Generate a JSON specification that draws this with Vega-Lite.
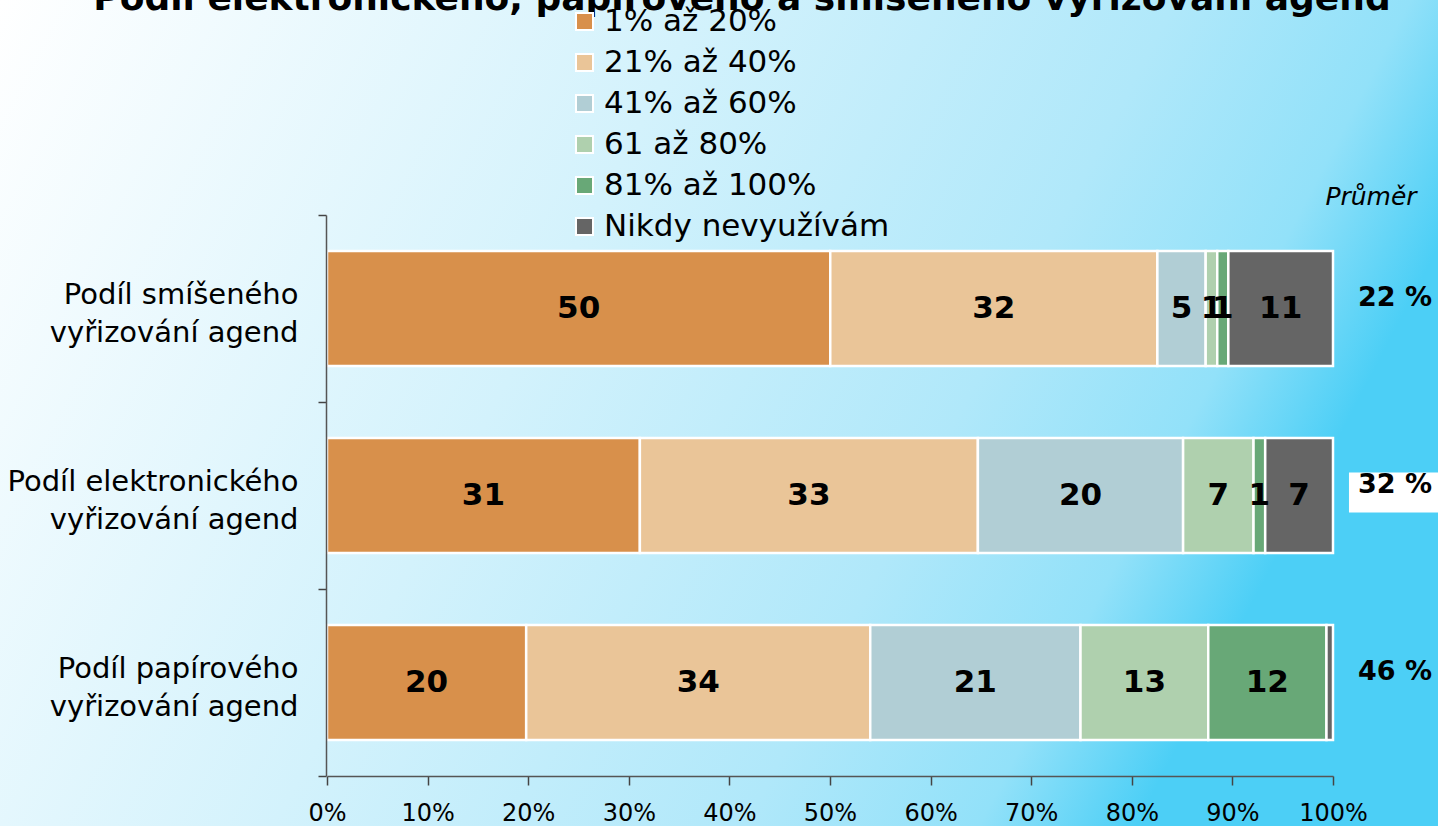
{
  "$schema": "https://vega.github.io/schema/vega-lite/v6.json",
  "width": 1438,
  "height": 826,
  "autosize": {"type": "none"},
  "padding": 0,
  "background": "#ffffff",
  "view": {
    "stroke": null,
    "fill": {
      "gradient": "linear",
      "x1": 0, "y1": 0, "x2": 1, "y2": 0.3,
      "stops": [
        {"offset": 0, "color": "#ffffff"},
        {"offset": 0.45, "color": "#d3f2fc"},
        {"offset": 0.75, "color": "#b0e8fa"},
        {"offset": 0.9, "color": "#92e1f9"},
        {"offset": 1, "color": "#4ccff6"}
      ]
    }
  },
  "title": {
    "text": "Podíl elektronického, papírového a smíšeného vyřizování agend",
    "font": "DejaVu Sans",
    "fontSize": 36,
    "fontWeight": "bold",
    "color": "#000000",
    "anchor": "middle",
    "frame": "group",
    "baseline": "alphabetic",
    "offset": -60,
    "dx": 23
  },
  "datasets": {
    "bars": [
      {"row": "Podíl smíšeného vyřizování agend", "cat": "1% až 20%", "value": 50.0, "label": "50"},
      {"row": "Podíl smíšeného vyřizování agend", "cat": "21% až 40%", "value": 32.5, "label": "32"},
      {"row": "Podíl smíšeného vyřizování agend", "cat": "41% až 60%", "value": 4.8, "label": "5"},
      {"row": "Podíl smíšeného vyřizování agend", "cat": "61 až 80%", "value": 1.15, "label": "1"},
      {"row": "Podíl smíšeného vyřizování agend", "cat": "81% až 100%", "value": 1.1, "label": "1"},
      {"row": "Podíl smíšeného vyřizování agend", "cat": "Nikdy nevyužívám", "value": 10.4, "label": "11"},
      {"row": "Podíl elektronického vyřizování agend", "cat": "1% až 20%", "value": 31.1, "label": "31"},
      {"row": "Podíl elektronického vyřizování agend", "cat": "21% až 40%", "value": 33.6, "label": "33"},
      {"row": "Podíl elektronického vyřizování agend", "cat": "41% až 60%", "value": 20.4, "label": "20"},
      {"row": "Podíl elektronického vyřizování agend", "cat": "61 až 80%", "value": 7.0, "label": "7"},
      {"row": "Podíl elektronického vyřizování agend", "cat": "81% až 100%", "value": 1.16, "label": "1"},
      {"row": "Podíl elektronického vyřizování agend", "cat": "Nikdy nevyužívám", "value": 6.74, "label": "7"},
      {"row": "Podíl papírového vyřizování agend", "cat": "1% až 20%", "value": 19.8, "label": "20"},
      {"row": "Podíl papírového vyřizování agend", "cat": "21% až 40%", "value": 34.2, "label": "34"},
      {"row": "Podíl papírového vyřizování agend", "cat": "41% až 60%", "value": 20.9, "label": "21"},
      {"row": "Podíl papírového vyřizování agend", "cat": "61 až 80%", "value": 12.7, "label": "13"},
      {"row": "Podíl papírového vyřizování agend", "cat": "81% až 100%", "value": 11.75, "label": "12"},
      {"row": "Podíl papírového vyřizování agend", "cat": "Nikdy nevyužívám", "value": 0.65, "label": ""}
    ],
    "avg": [
      {"row": "Podíl smíšeného vyřizování agend", "avg": "22 %", "boxed": false},
      {"row": "Podíl elektronického vyřizování agend", "avg": "32 %", "boxed": true},
      {"row": "Podíl papírového vyřizování agend", "avg": "46 %", "boxed": false}
    ],
    "header": [
      {"row": "Podíl smíšeného vyřizování agend", "text": "Průměr"}
    ]
  },
  "encoding": {
    "y": {
      "field": "row", "type": "nominal",
      "sort": ["Podíl smíšeného vyřizování agend", "Podíl elektronického vyřizování agend", "Podíl papírového vyřizování agend"],
      "scale": {"domain": ["Podíl smíšeného vyřizování agend", "Podíl elektronického vyřizování agend", "Podíl papírového vyřizování agend"], "range": [215, 776], "paddingInner": 0, "paddingOuter": 0},
      "axis": {
        "title": null,
        "orient": "left",
        "offset": -326,
        "zindex": 1,
        "tickBand": "extent",
        "domainColor": "#555555",
        "domainWidth": 1.5,
        "tickColor": "#444444",
        "tickWidth": 1.5,
        "tickSize": 8,
        "labelPadding": 20,
        "labelOffset": -14,
        "labelFont": "DejaVu Sans",
        "labelFontSize": 29,
        "labelLineHeight": 38,
        "labelColor": "#000000",
        "labelAlign": "right",
        "labelBaseline": "middle",
        "labelLimit": 400,
        "labelExpr": "split(replace(datum.label, ' vyřizování', '|vyřizování'), '|')"
      }
    }
  },
  "layer": [
    {
      "data": {"name": "bars"},
      "transform": [
        {"stack": "value", "groupby": ["row"], "sort": [{"field": "cat", "order": "ascending"}], "offset": "normalize", "as": ["x0", "x1"]}
      ],
      "mark": {"type": "bar", "height": {"band": 0.615}, "stroke": "#ffffff", "strokeWidth": 2.5, "strokeJoin": "miter"},
      "encoding": {
        "x": {
          "field": "x0", "type": "quantitative",
          "scale": {"domain": [0, 1], "range": [327, 1333], "nice": false, "zero": false},
          "axis": {
            "title": null,
            "orient": "bottom",
            "offset": -50,
            "zindex": 1,
            "values": [0, 0.1, 0.2, 0.3, 0.4, 0.5, 0.6, 0.7, 0.8, 0.9, 1],
            "format": ".0%",
            "grid": false,
            "domainColor": "#555555",
            "domainWidth": 1.5,
            "tickColor": "#444444",
            "tickWidth": 1.5,
            "tickSize": 9,
            "labelPadding": 16,
            "labelFont": "DejaVu Sans",
            "labelFontSize": 24,
            "labelColor": "#000000",
            "labelFlush": false,
            "labelOverlap": false
          }
        },
        "x2": {"field": "x1"},
        "color": {
          "field": "cat", "type": "nominal",
          "scale": {
            "domain": ["1% až 20%", "21% až 40%", "41% až 60%", "61 až 80%", "81% až 100%", "Nikdy nevyužívám"],
            "range": ["#d8904b", "#eac598", "#b1ced5", "#afd0ae", "#68a877", "#656565"]
          },
          "legend": {
            "title": null,
            "orient": "none",
            "legendX": 569,
            "legendY": 6,
            "direction": "vertical",
            "padding": 0,
            "symbolType": "square",
            "symbolSize": 289,
            "symbolStrokeColor": "#ffffff",
            "symbolStrokeWidth": 2,
            "symbolOpacity": 1,
            "labelFont": "DejaVu Sans",
            "labelFontSize": 31,
            "labelColor": "#000000",
            "labelOffset": 4,
            "labelLimit": 500,
            "rowPadding": 9,
            "zindex": 2
          }
        }
      }
    },
    {
      "data": {"name": "bars"},
      "transform": [
        {"stack": "value", "groupby": ["row"], "sort": [{"field": "cat", "order": "ascending"}], "offset": "normalize", "as": ["x0", "x1"]},
        {"calculate": "(datum.x0 + datum.x1) / 2", "as": "mid"}
      ],
      "mark": {"type": "text", "font": "DejaVu Sans", "fontSize": 31, "fontWeight": "bold", "color": "#000000", "align": "center", "baseline": "middle"},
      "encoding": {
        "x": {"field": "mid", "type": "quantitative", "axis": {"title": null}},
        "text": {"field": "label"}
      }
    },
    {
      "data": {"name": "avg"},
      "transform": [{"filter": "datum.boxed"}],
      "mark": {"type": "point", "filled": true, "color": "#ffffff", "opacity": 1, "shape": "M-1,-0.435L1,-0.435L1,0.435L-1,0.435Z", "size": 8464, "yOffset": -3},
      "encoding": {
        "x": {"datum": 1.0616, "type": "quantitative", "axis": {"title": null}}
      }
    },
    {
      "data": {"name": "avg"},
      "mark": {"type": "text", "font": "DejaVu Sans", "fontSize": 27, "fontWeight": "bold", "color": "#000000", "align": "center", "baseline": "middle", "yOffset": -11},
      "encoding": {
        "x": {"datum": 1.0616, "type": "quantitative", "axis": {"title": null}},
        "text": {"field": "avg"}
      }
    },
    {
      "data": {"name": "header"},
      "mark": {"type": "text", "font": "DejaVu Sans", "fontSize": 25, "fontStyle": "italic", "color": "#000000", "align": "center", "baseline": "middle", "yOffset": -112},
      "encoding": {
        "x": {"datum": 1.0378, "type": "quantitative", "axis": {"title": null}},
        "text": {"field": "text"}
      }
    }
  ]
}
